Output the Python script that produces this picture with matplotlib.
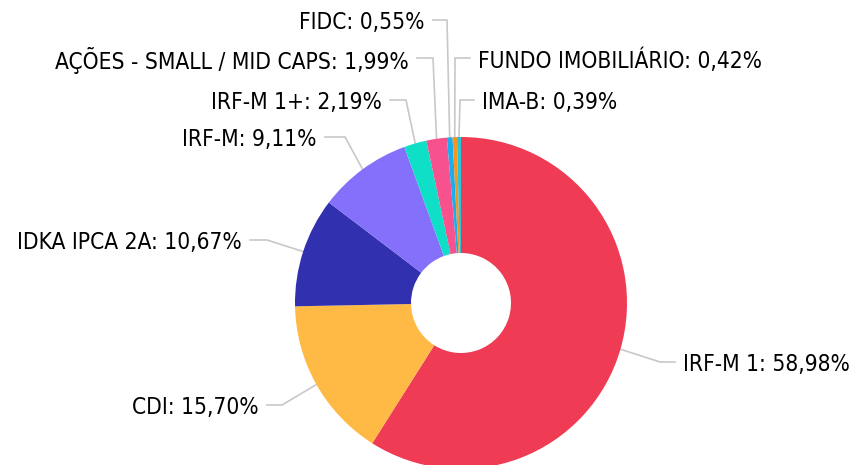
import matplotlib
matplotlib.use("Agg")
import matplotlib.pyplot as plt
import numpy as np

labels = ["IRF-M 1", "CDI", "IDKA IPCA 2A", "IRF-M", "IRF-M 1+",
          "AÇÕES - SMALL / MID CAPS", "FIDC", "FUNDO IMOBILIÁRIO", "IMA-B"]
values = [58.98, 15.70, 10.67, 9.11, 2.19, 1.99, 0.55, 0.42, 0.39]
colors = ["#EF3B53", "#FFBA45", "#3130AF", "#8470FA", "#0EDFC6",
          "#F7528E", "#1AAEEF", "#F89420", "#27C6DB"]

# layout: label line end (pixel coords from top-left) and side
label_pos = [(675, 362, 1), (267, 405, -1), (250, 240, -1), (325, 137, -1),
             (390, 100, -1), (417, 58, -1), (433, 20, -1), (470, 58, 1), (474, 100, 1)]
elbow_len = [15, 15, 17, 20, 16, 16, 14, 15, 14]

W, H = 853, 465
fig = plt.figure(figsize=(W / 100, H / 100), dpi=100)
ax = fig.add_axes([0, 0, 1, 1])

cx, cy, R, r_in = 461, H - 303, 166, 50
wedges, _ = ax.pie(values, colors=colors, startangle=90, counterclock=False,
                   center=(cx, cy), radius=R, frame=True,
                   wedgeprops=dict(width=R - r_in, linewidth=0))
ax.set_xlim(0, W)
ax.set_ylim(0, H)
ax.set_aspect("equal")
ax.axis("off")

def fmt(v):
    return f"{v:.2f}".replace(".", ",") + "%"

for w, lab, v, (lx, ly, side), el in zip(wedges, labels, values, label_pos, elbow_len):
    ang = np.deg2rad((w.theta1 + w.theta2) / 2)
    ex, ey = cx + R * np.cos(ang), cy + R * np.sin(ang)
    ly_up = H - ly
    elx = lx - side * el
    ax.plot([ex, elx, lx], [ey, ly_up, ly_up], color="#C8C8C8", lw=1.2,
            solid_joinstyle="miter", zorder=0)
    tx = lx + side * 8
    ax.text(tx, ly_up - 2.5, f"{lab}: {fmt(v)}", ha="left" if side > 0 else "right",
            va="center", fontsize=16.3, family="DejaVu Sans", fontstretch="condensed",
            color="#000000")

fig.savefig("out.png", dpi=100)
